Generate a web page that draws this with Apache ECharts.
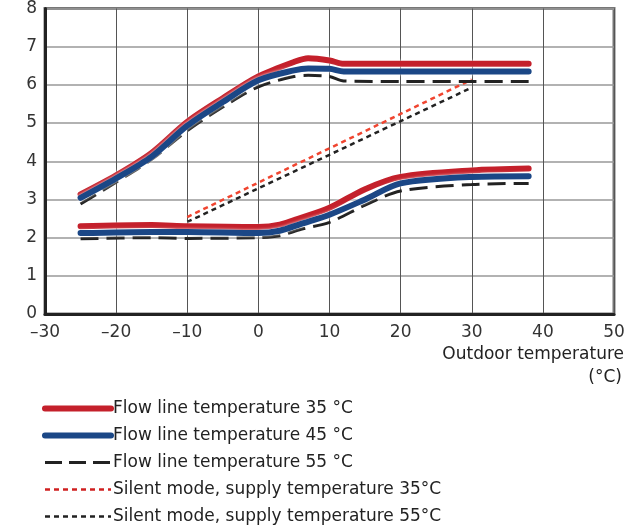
<!DOCTYPE html>
<html>
<head>
<meta charset="utf-8">
<script src="https://cdn.jsdelivr.net/npm/echarts@6/dist/echarts.min.js"></script>
<style>
html,body{margin:0;padding:0;background:#fff;}
#chart{width:640px;height:532px;}
</style>
</head>
<body>
<div id="chart"></div>
<script>
// Outdoor temperature (°C) positions
const upperX = [-25, -20, -15, -10, -5, 0, 5, 7, 10, 12, 20, 30, 38];
const upper35 = [3.13, 3.63, 4.22, 5.03, 5.65, 6.22, 6.60, 6.70, 6.64, 6.55, 6.55, 6.55, 6.55];
const upper45 = [3.04, 3.55, 4.12, 4.93, 5.55, 6.12, 6.38, 6.43, 6.42, 6.35, 6.35, 6.35, 6.35];
const upper55 = [2.88, 3.45, 4.05, 4.80, 5.42, 5.95, 6.22, 6.25, 6.22, 6.10, 6.09, 6.09, 6.09];

const lowerX = [-25, -15, -10, 0, 3, 6, 10, 15, 20, 30, 38];
const lower35 = [2.30, 2.33, 2.30, 2.28, 2.34, 2.52, 2.78, 3.27, 3.59, 3.76, 3.81];
const lower45 = [2.12, 2.15, 2.15, 2.12, 2.18, 2.36, 2.60, 3.00, 3.42, 3.59, 3.61];
const lower55 = [1.97, 2.00, 1.98, 2.00, 2.05, 2.22, 2.40, 2.85, 3.22, 3.39, 3.42];

const silentX = [-10, 30];
const silent35 = [2.54, 6.14];
const silent55 = [2.41, 5.93];

const xTicks = [-30, -20, -10, 0, 10, 20, 30, 40, 50];
const yTicks = [0, 1, 2, 3, 4, 5, 6, 7, 8];

const names = [
  'Flow line temperature 35 °C',
  'Flow line temperature 45 °C',
  'Flow line temperature 55 °C',
  'Silent mode, supply temperature 35°C',
  'Silent mode, supply temperature 55°C'
];

const pair = (xs, ys) => xs.map((x, i) => [x, ys[i]]);
const FONT = 'DejaVu Sans';

const halo = { shadowColor: 'rgba(255,255,255,0.95)', shadowBlur: 3 };
const styles = {
  red: Object.assign({ color: '#c4202b', width: 6, type: 'solid', cap: 'round', join: 'round' }, halo),
  blue: Object.assign({ color: '#1b4786', width: 6, type: 'solid', cap: 'round', join: 'round' }, halo),
  dash: { color: '#222', width: 3, type: [18, 8], cap: 'butt' },
  dotRed: { color: '#f04530', width: 2.5, type: [5, 4] },
  dotBlack: { color: '#222', width: 2.5, type: [5, 4] }
};

function line(name, data, st, z) {
  return {
    name: name, type: 'line', data: data, smooth: 0.3,
    showSymbol: false, symbol: 'none', z: z, silent: true,
    lineStyle: st, itemStyle: { color: st.color }
  };
}

const series = [
  line(names[0], pair(upperX, upper35), styles.red, 5),
  line(names[0], pair(lowerX, lower35), styles.red, 5),
  line(names[1], pair(upperX, upper45), styles.blue, 6),
  line(names[1], pair(lowerX, lower45), styles.blue, 6),
  line(names[2], pair(upperX, upper55), styles.dash, 4),
  line(names[2], pair(lowerX, lower55), styles.dash, 4),
  line(names[3], pair(silentX, silent35), styles.dotRed, 3),
  line(names[4], pair(silentX, silent55), styles.dotBlack, 3)
];

const fmt = v => String(v).replace('-', '\u2013');

const chart = echarts.init(document.getElementById('chart'), null, { renderer: 'canvas' });
chart.setOption({
  animation: false,
  backgroundColor: '#fff',
  textStyle: { fontFamily: FONT },
  grid: { left: 45, top: 8, right: 26, bottom: 218, show: true, borderColor: '#777', borderWidth: 3, backgroundColor: 'transparent' },
  xAxis: {
    type: 'value', min: xTicks[0], max: xTicks[xTicks.length - 1], interval: 10,
    axisLine: { show: true, onZero: false, lineStyle: { color: '#222', width: 3 } },
    axisTick: { show: false },
    axisLabel: { color: '#333', fontSize: 17, fontFamily: FONT, margin: 10, formatter: fmt },
    splitLine: { show: true, lineStyle: { color: '#555', width: 1 } }
  },
  yAxis: {
    type: 'value', min: yTicks[0], max: yTicks[yTicks.length - 1], interval: 1,
    axisLine: { show: true, onZero: false, lineStyle: { color: '#222', width: 3 } },
    axisTick: { show: false },
    axisLabel: { color: '#333', fontSize: 17, fontFamily: FONT, margin: 8 },
    splitLine: { show: true, lineStyle: { color: '#999', width: 1.5 } }
  },
  legend: {
    orient: 'vertical', left: 42, top: 400, height: 132, padding: 0,
    itemWidth: 66, itemHeight: 14, itemGap: 10,
    selectedMode: false,
    itemStyle: { opacity: 0 },
    textStyle: { color: '#222', fontSize: 17, fontFamily: FONT, padding: [0, 0, 0, -3] },
    data: [
      { name: names[0], lineStyle: { width: 6, cap: 'round' } },
      { name: names[1], lineStyle: { width: 6, cap: 'round' } },
      { name: names[2], lineStyle: { width: 3, type: [17, 7] } },
      { name: names[3], lineStyle: { width: 2.5, type: [5, 4], color: '#d02020' } },
      { name: names[4], lineStyle: { width: 2.5, type: [5, 4] } }
    ]
  },
  graphic: [
    { type: 'text', right: 16, top: 346, style: { text: 'Outdoor temperature', fontSize: 17, fontFamily: FONT, fill: '#222', textAlign: 'right' } },
    { type: 'text', right: 18, top: 369, style: { text: '(°C)', fontSize: 17, fontFamily: FONT, fill: '#222', textAlign: 'right' } }
  ],
  series: series
});
</script>
</body>
</html>
